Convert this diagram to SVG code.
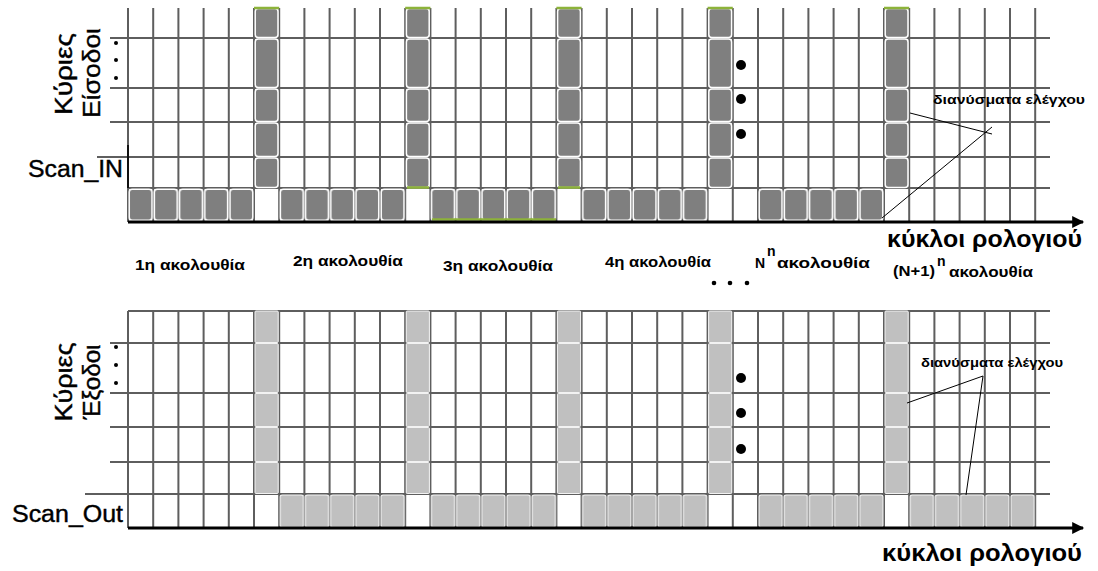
<svg xmlns="http://www.w3.org/2000/svg" xmlns:xlink="http://www.w3.org/1999/xlink" width="1098" height="571" viewBox="0 0 1098 571">
<style>
.grid{stroke:#5e5e5e;stroke-width:2;fill:none}
.axis{stroke:#000;stroke-width:3;fill:none}
.lbl{font-family:"Liberation Sans",Arial,sans-serif;font-weight:bold;font-size:14px;fill:#000}
.big{font-family:"Liberation Sans",Arial,sans-serif;font-weight:bold;font-size:24px;fill:#000}
.side{font-family:"Liberation Sans",Arial,sans-serif;font-size:23px;fill:#000;stroke:#000;stroke-width:0.4}
.call{font-family:"Liberation Sans",Arial,sans-serif;font-weight:bold;font-size:13px;fill:#000}
.dk{fill:#7f7f7f;stroke:#fff;stroke-width:1.5}
.lt{fill:#c0c0c0;stroke:#f2f2f2;stroke-width:1}
.green{stroke:#8db33a;stroke-width:2.5}
.lead{stroke:#000;stroke-width:1;fill:none}
</style>
<defs>
<marker id="arr" viewBox="0 0 10 10" refX="9" refY="5" markerWidth="5" markerHeight="4" orient="auto" markerUnits="strokeWidth">
<path d="M0 0L10 5L0 10z" fill="#000"/>
</marker>
<pattern id="scanTop" patternUnits="userSpaceOnUse" x="128" y="188" width="25.2" height="34">
<rect class="dk" x="1.2" y="1.2" width="22.8" height="31" rx="3"/>
</pattern>
<pattern id="scanBot" patternUnits="userSpaceOnUse" x="128" y="494" width="25.2" height="34">
<rect class="lt" x="1" y="1" width="23.2" height="32" rx="2"/>
</pattern>
<g id="colTop">
<rect class="dk" x="1.2" y="8.5" width="22.8" height="29" rx="3"/>
<rect class="dk" x="1.2" y="39" width="22.8" height="48.5" rx="3"/>
<rect class="dk" x="1.2" y="89" width="22.8" height="32.5" rx="3"/>
<rect class="dk" x="1.2" y="123" width="22.8" height="33.5" rx="3"/>
<rect class="dk" x="1.2" y="158" width="22.8" height="29.5" rx="3"/>
</g>
<g id="colBot">
<rect class="lt" x="1" y="311" width="23.2" height="31.5" rx="1"/>
<rect class="lt" x="1" y="343.5" width="23.2" height="49" rx="1"/>
<rect class="lt" x="1" y="393.5" width="23.2" height="33" rx="1"/>
<rect class="lt" x="1" y="427.5" width="23.2" height="34" rx="1"/>
<rect class="lt" x="1" y="462.5" width="23.2" height="31" rx="1"/>
</g>
</defs>
<rect width="1098" height="571" fill="#fff"/>

<g id="top-grid">
<path class="grid" d="M128 8V222M153.2 8V222M178.4 8V222M203.6 8V222M228.8 8V222M254 8V222M279.2 8V222M304.4 8V222M329.6 8V222M354.8 8V222M380 8V222M405.2 8V222M430.4 8V222M455.6 8V222M480.8 8V222M506 8V222M531.2 8V222M556.4 8V222M581.6 8V222M606.8 8V222M632 8V222M657.2 8V222M682.4 8V222M707.6 8V222M732.8 8V222M758 8V222M783.2 8V222M808.4 8V222M833.6 8V222M858.8 8V222M884 8V222M909.2 8V222M934.4 8V222M959.6 8V222M984.8 8V222M1010 8V222M1035.2 8V222"/>
<path class="grid" d="M110 38H1050M110 88H1050M110 122H1050M97 157H1050M128 188H1050"/>
<path d="M128 145V188" stroke="#111" stroke-width="2"/>
</g>

<g id="top-cells">
<use xlink:href="#colTop" x="254"/>
<use xlink:href="#colTop" x="405.2"/>
<use xlink:href="#colTop" x="556.4"/>
<use xlink:href="#colTop" x="707.6"/>
<use xlink:href="#colTop" x="884"/>
<rect x="128" y="188" width="126" height="34" fill="url(#scanTop)"/>
<rect x="279.2" y="188" width="126" height="34" fill="url(#scanTop)"/>
<rect x="430.4" y="188" width="126" height="34" fill="url(#scanTop)"/>
<rect x="581.6" y="188" width="126" height="34" fill="url(#scanTop)"/>
<rect x="758" y="188" width="126" height="34" fill="url(#scanTop)"/>
<path class="green" d="M254 8H279.2M405.2 8H430.4M556.4 8H581.6M707.6 8H732.8M884 8H909.2M407 187.5H429M558 187.5H580M432 219.5H556"/>
</g>

<g id="bottom-grid">
<path class="grid" d="M128 311V528M153.2 311V528M178.4 311V528M203.6 311V528M228.8 311V528M254 311V528M279.2 311V528M304.4 311V528M329.6 311V528M354.8 311V528M380 311V528M405.2 311V528M430.4 311V528M455.6 311V528M480.8 311V528M506 311V528M531.2 311V528M556.4 311V528M581.6 311V528M606.8 311V528M632 311V528M657.2 311V528M682.4 311V528M707.6 311V528M732.8 311V528M758 311V528M783.2 311V528M808.4 311V528M833.6 311V528M858.8 311V528M884 311V528M909.2 311V528M934.4 311V528M959.6 311V528M984.8 311V528M1010 311V528M1035.2 311V528"/>
<path class="grid" d="M128 311H1050M110 343H1050M110 393H1050M110 427H1050M110 462H1050M85 494H1050"/>
</g>

<g id="bottom-cells">
<use xlink:href="#colBot" x="254"/>
<use xlink:href="#colBot" x="405.2"/>
<use xlink:href="#colBot" x="556.4"/>
<use xlink:href="#colBot" x="707.6"/>
<use xlink:href="#colBot" x="884"/>
<rect x="279.2" y="494" width="126" height="34" fill="url(#scanBot)"/>
<rect x="430.4" y="494" width="126" height="34" fill="url(#scanBot)"/>
<rect x="581.6" y="494" width="126" height="34" fill="url(#scanBot)"/>
<rect x="758" y="494" width="126" height="34" fill="url(#scanBot)"/>
<rect x="909.2" y="494" width="126" height="34" fill="url(#scanBot)"/>
</g>

<g id="connectors">
<path class="axis" d="M128 222H1083" marker-end="url(#arr)"/>
<path class="axis" d="M128 528H1083" marker-end="url(#arr)"/>
<path class="lead" d="M910 113L992 134M882 218L992 127"/>
<path class="lead" d="M907 403L983 376M966 495L983 376"/>
</g>

<g id="dots">
<circle cx="116" cy="43" r="2"/><circle cx="116" cy="60" r="2"/><circle cx="116" cy="78" r="2"/>
<circle cx="116" cy="347" r="2"/><circle cx="116" cy="365" r="2"/><circle cx="116" cy="383" r="2"/>
<circle cx="714" cy="283" r="2.3"/><circle cx="730" cy="283" r="2.3"/><circle cx="747" cy="283" r="2.3"/>
<circle cx="741" cy="65" r="5"/><circle cx="741" cy="99" r="5"/><circle cx="741" cy="134" r="5"/>
<circle cx="741" cy="378" r="5"/><circle cx="741" cy="413" r="5"/><circle cx="741" cy="449" r="5"/>
</g>

<g id="labels-top">
<text class="side" transform="translate(72 74) rotate(-90)" text-anchor="middle" textLength="82" lengthAdjust="spacingAndGlyphs">Κύριες</text>
<text class="side" transform="translate(100 73) rotate(-90)" text-anchor="middle" textLength="90" lengthAdjust="spacingAndGlyphs">Είσοδοι</text>
<text class="side" x="28" y="177" textLength="95" lengthAdjust="spacingAndGlyphs">Scan_IN</text>
<text class="call" x="933" y="104" textLength="152" lengthAdjust="spacingAndGlyphs">διανύσματα ελέγχου</text>
<text class="big" x="887" y="247" textLength="195" lengthAdjust="spacingAndGlyphs">κύκλοι ρολογιού</text>
</g>

<g id="labels-seq">
<text class="lbl" x="135" y="270" textLength="110" lengthAdjust="spacingAndGlyphs">1η ακολουθία</text>
<text class="lbl" x="293" y="266" textLength="110" lengthAdjust="spacingAndGlyphs">2η ακολουθία</text>
<text class="lbl" x="443" y="271" textLength="110" lengthAdjust="spacingAndGlyphs">3η ακολουθία</text>
<text class="lbl" x="605" y="267" textLength="106" lengthAdjust="spacingAndGlyphs">4η ακολουθία</text>
<text class="lbl" x="755" y="268">N</text>
<text class="lbl" x="767" y="256">n</text>
<text class="lbl" x="777" y="268" textLength="93" lengthAdjust="spacingAndGlyphs">ακολουθία</text>
<text class="lbl" x="893" y="276" textLength="42" lengthAdjust="spacingAndGlyphs">(N+1)</text>
<text class="lbl" x="937" y="266">n</text>
<text class="lbl" x="949" y="277" textLength="84" lengthAdjust="spacingAndGlyphs">ακολουθία</text>
</g>

<g id="labels-bottom">
<text class="side" transform="translate(72 382) rotate(-90)" text-anchor="middle" textLength="79" lengthAdjust="spacingAndGlyphs">Κύριες</text>
<text class="side" transform="translate(100 382) rotate(-90)" text-anchor="middle" textLength="75" lengthAdjust="spacingAndGlyphs">Έξοδοι</text>
<text class="side" x="12" y="522" textLength="111" lengthAdjust="spacingAndGlyphs">Scan_Out</text>
<text class="call" x="921" y="367" textLength="142" lengthAdjust="spacingAndGlyphs">διανύσματα ελέγχου</text>
<text class="big" x="882" y="561" textLength="200" lengthAdjust="spacingAndGlyphs">κύκλοι ρολογιού</text>
</g>
</svg>
